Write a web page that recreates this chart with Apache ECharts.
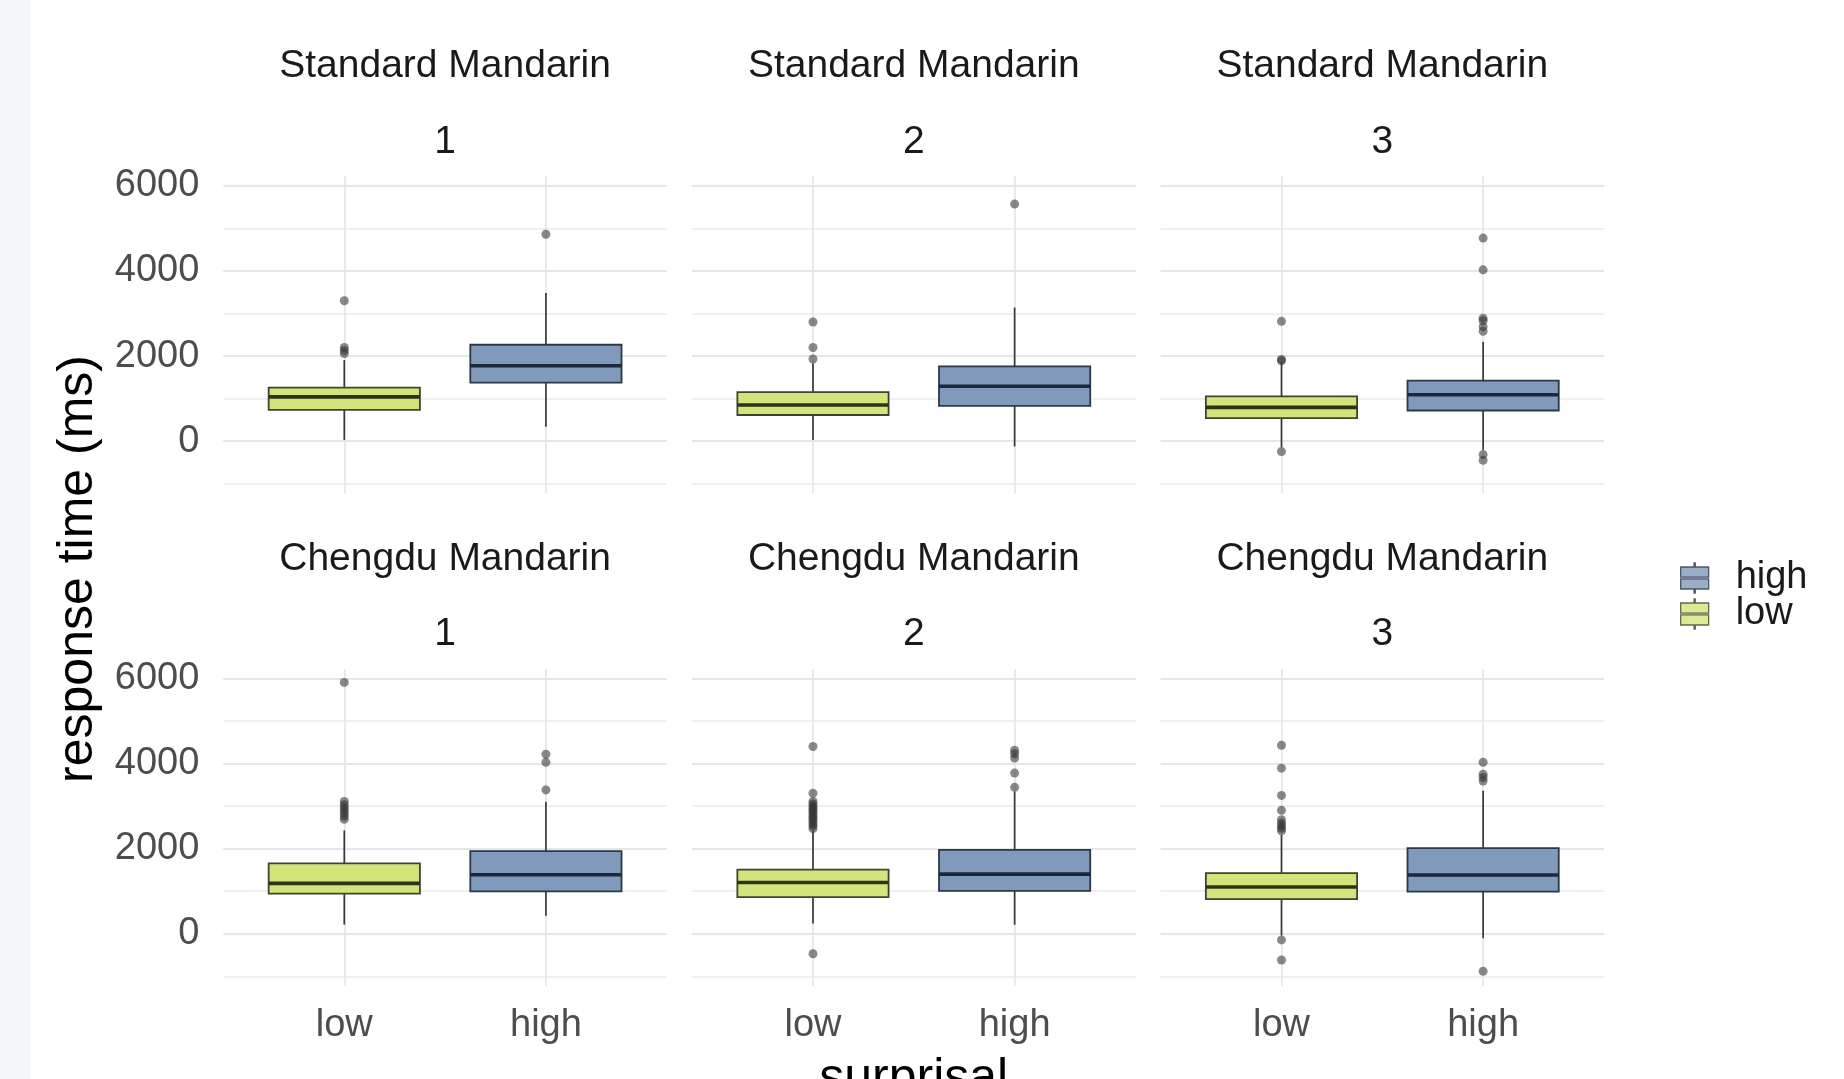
<!DOCTYPE html>
<html>
<head>
<meta charset="utf-8">
<script src="https://cdn.jsdelivr.net/npm/echarts@6/dist/echarts.min.js"></script>
<style>
html,body{margin:0;padding:0;background:#ffffff;}
#chart{width:1844px;height:1079px;}
</style>
</head>
<body>
<div id="chart"></div>
<script>
// ---------------- data ----------------
const PANEL_DIALECT = ['Standard Mandarin', 'Standard Mandarin', 'Standard Mandarin',
                       'Chengdu Mandarin', 'Chengdu Mandarin', 'Chengdu Mandarin'];
const PANEL_BLOCK = ['1', '2', '3', '1', '2', '3'];
const SURPRISAL = ['low', 'high'];
const LEGEND_ORDER = ['high', 'low'];

// [lower whisker, Q1, median, Q3, upper whisker] per panel
const LOW_STATS = [
  [30, 735, 1040, 1260, 1905],
  [30, 615, 850, 1150, 1830],
  [-140, 540, 795, 1050, 1860],
  [215, 945, 1185, 1655, 2430],
  [240, 860, 1205, 1505, 2420],
  [-40, 815, 1100, 1425, 2320]
];
const HIGH_STATS = [
  [340, 1375, 1770, 2265, 3480],
  [-125, 830, 1290, 1755, 3140],
  [-200, 720, 1090, 1420, 2330],
  [425, 995, 1385, 1940, 3100],
  [210, 1010, 1400, 1970, 3340],
  [-105, 990, 1380, 2010, 3360]
];
const LOW_OUTLIERS = [
  [3300, 2200, 2130, 2060],
  [2800, 2200, 1930],
  [2815, 1920, 1890, -245],
  [5905, 3110, 3030, 2960, 2900, 2830, 2760, 2690],
  [4400, 3300, 3110, 3050, 3000, 2950, 2900, 2850, 2790, 2740, 2690, 2640, 2580, 2530, 2470, -470],
  [4430, 3890, 3250, 2900, 2680, 2600, 2540, 2480, 2420, -145, -615]
];
const HIGH_OUTLIERS = [
  [4860],
  [5570],
  [4770, 4025, 2890, 2830, 2690, 2580, -315, -450],
  [4220, 4030, 3380],
  [4310, 4230, 4130, 3775, 3440],
  [4030, 3750, 3670, 3590, -880]
];
const MAJOR_TICKS = [0, 2000, 4000, 6000];
const MINOR_TICKS = [-1000, 1000, 3000, 5000];
const Y_TITLE = 'response time (ms)';
const X_TITLE = 'surprisal';

// ---------------- layout & style ----------------
const FONT = 'Liberation Sans, Arial, Helvetica, sans-serif';
const PANEL_LEFT = [223.3, 692.0, 1160.5];
const PANEL_W = 443.6;
const ROW_TOP = [176.4, 669.0];
const PANEL_H = 316.7;
const Y_LO = -1220, Y_HI = 6220;
const UNIT = PANEL_W / 2.2;
const BOX_WIDTH = 0.75;
const STRIP_Y1 = [66.5, 559.5];
const STRIP_Y2 = [142.5, 634.5];
const LEGEND_TOP = [559, 595];

const FILL = { low: '#d3e47b', high: '#7f9aba' };
const MEDIAN = { low: '#2a3516', high: '#1a283b' };
const BORDER = { low: '#3d4530', high: '#2c3848' };
const WHISKER = '#383838';

function py(row, v) { return ROW_TOP[row] + (Y_HI - v) / (Y_HI - Y_LO) * PANEL_H; }

function makeRender(g) {
  return function (params, api) {
    const x = api.value(0);
    const lo = api.coord([x, api.value(1)]);
    const q1 = api.coord([x, api.value(2)]);
    const md = api.coord([x, api.value(3)]);
    const q3 = api.coord([x, api.value(4)]);
    const hi = api.coord([x, api.value(5)]);
    const half = api.size([BOX_WIDTH, 0])[0] / 2;
    const cx = q1[0];
    return {
      type: 'group',
      children: [
        { type: 'line', shape: { x1: cx, y1: hi[1], x2: cx, y2: q3[1] }, style: { stroke: WHISKER, lineWidth: 1.7 } },
        { type: 'line', shape: { x1: cx, y1: q1[1], x2: cx, y2: lo[1] }, style: { stroke: WHISKER, lineWidth: 1.7 } },
        { type: 'rect', shape: { x: cx - half, y: q3[1], width: 2 * half, height: q1[1] - q3[1] },
          style: { fill: FILL[g], stroke: BORDER[g], lineWidth: 1.8 } },
        { type: 'line', shape: { x1: cx - half, y1: md[1], x2: cx + half, y2: md[1] },
          style: { stroke: MEDIAN[g], lineWidth: 3.6 } }
      ]
    };
  };
}

const grids = [], xAxes = [], yAxes = [], series = [], graphics = [];
const labelStyle = { fontFamily: FONT, fontSize: 38, color: '#4d4d4d' };

for (let p = 0; p < 6; p++) {
  const col = p % 3, row = Math.floor(p / 3);
  const base = grids.length;
  grids.push({ left: PANEL_LEFT[col] + 0.6 * UNIT, width: UNIT, top: ROW_TOP[row], height: PANEL_H, outerBoundsMode: 'none', containLabel: false });
  grids.push({ left: PANEL_LEFT[col], width: PANEL_W, top: py(row, MAJOR_TICKS[MAJOR_TICKS.length - 1]),
    height: py(row, MAJOR_TICKS[0]) - py(row, MAJOR_TICKS[MAJOR_TICKS.length - 1]), outerBoundsMode: 'none', containLabel: false });
  grids.push({ left: PANEL_LEFT[col], width: PANEL_W, top: py(row, MINOR_TICKS[MINOR_TICKS.length - 1]),
    height: py(row, MINOR_TICKS[0]) - py(row, MINOR_TICKS[MINOR_TICKS.length - 1]), outerBoundsMode: 'none', containLabel: false });

  xAxes.push({
    gridIndex: base, type: 'value', min: 1, max: 2, interval: 1,
    axisLine: { show: false }, axisTick: { show: false },
    splitLine: { show: true, lineStyle: { color: '#e4e4e4', width: 1.6 } },
    axisLabel: Object.assign({ show: row === 1, margin: 40, verticalAlign: 'middle',
      formatter: v => SURPRISAL[Math.round(v) - 1] }, labelStyle)
  });
  yAxes.push({ gridIndex: base, type: 'value', min: Y_LO, max: Y_HI, show: false });

  xAxes.push({ gridIndex: base + 1, type: 'value', min: 0, max: 1, show: false });
  yAxes.push({
    gridIndex: base + 1, type: 'value', min: MAJOR_TICKS[0], max: MAJOR_TICKS[MAJOR_TICKS.length - 1],
    interval: MAJOR_TICKS[1] - MAJOR_TICKS[0],
    axisLine: { show: false }, axisTick: { show: false },
    splitLine: { show: true, lineStyle: { color: '#e6e6e6', width: 2.2 } },
    axisLabel: Object.assign({ show: col === 0, margin: 24, padding: [5, 0, 0, 0], formatter: v => String(v) }, labelStyle)
  });

  xAxes.push({ gridIndex: base + 2, type: 'value', min: 0, max: 1, show: false });
  yAxes.push({
    gridIndex: base + 2, type: 'value', min: MINOR_TICKS[0], max: MINOR_TICKS[MINOR_TICKS.length - 1],
    interval: MINOR_TICKS[1] - MINOR_TICKS[0],
    axisLine: { show: false }, axisTick: { show: false }, axisLabel: { show: false },
    splitLine: { show: true, lineStyle: { color: '#ebebeb', width: 1.5 } }
  });

  SURPRISAL.forEach((g, gi) => {
    const stats = (gi === 0 ? LOW_STATS : HIGH_STATS)[p];
    const outs = (gi === 0 ? LOW_OUTLIERS : HIGH_OUTLIERS)[p];
    series.push({
      type: 'scatter', name: g, xAxisIndex: base, yAxisIndex: base, clip: false, silent: true, z: 2,
      symbol: 'circle', symbolSize: 9,
      itemStyle: { color: 'rgba(50,50,50,0.72)' },
      data: outs.map(v => [gi + 1, v])
    });
    series.push({
      type: 'custom', name: g, xAxisIndex: base, yAxisIndex: base, clip: false, silent: true, z: 3,
      itemStyle: { color: FILL[g] },
      renderItem: makeRender(g),
      data: [[gi + 1].concat(stats)]
    });
  });

  const cxPanel = PANEL_LEFT[col] + PANEL_W / 2;
  graphics.push({ type: 'text', x: cxPanel, y: STRIP_Y1[row], silent: true,
    style: { text: PANEL_DIALECT[p], fontFamily: FONT, fontSize: 39, fill: '#1a1a1a', textAlign: 'center', textVerticalAlign: 'middle' } });
  graphics.push({ type: 'text', x: cxPanel, y: STRIP_Y2[row], silent: true,
    style: { text: PANEL_BLOCK[p], fontFamily: FONT, fontSize: 39, fill: '#1a1a1a', textAlign: 'center', textVerticalAlign: 'middle' } });
}

graphics.unshift({ type: 'rect', left: 0, top: 0, z: -10, silent: true,
  shape: { x: 0, y: 0, width: 30, height: 1079 }, style: { fill: '#f4f8fb' } });
graphics.push({ type: 'text', x: 78, y: 569, rotation: Math.PI / 2, silent: true,
  style: { text: Y_TITLE, fontFamily: FONT, fontSize: 50, fill: '#000000', textAlign: 'center', textVerticalAlign: 'middle' } });
graphics.push({ type: 'text', x: (PANEL_LEFT[0] + PANEL_LEFT[2] + PANEL_W) / 2, y: 1079, silent: true,
  style: { text: X_TITLE, fontFamily: FONT, fontSize: 50, fill: '#000000', textAlign: 'center', textVerticalAlign: 'middle' } });

const KEY_ICON = 'path://M13.4,0h1.2v4h-1.2z M0,4h28v10.2h-28z M0,15.8h28v10.2h-28z M13.4,26h1.2v4h-1.2z';

const legends = LEGEND_ORDER.map((g, i) => ({
  orient: 'vertical', left: 1680, top: LEGEND_TOP[i], padding: 0,
  itemWidth: 28, itemHeight: 30, itemGap: 0, selectedMode: false,
  textStyle: { fontFamily: FONT, fontSize: 38, color: '#1a1a1a', padding: [0, 0, 0, 22] },
  data: [{ name: g, icon: KEY_ICON, itemStyle: { color: FILL[g], borderColor: BORDER[g], borderWidth: 1.3 } }]
}));

const option = {
  animation: false,
  backgroundColor: '#ffffff',
  grid: grids,
  xAxis: xAxes,
  yAxis: yAxes,
  series: series,
  graphic: graphics,
  legend: legends
};

const chart = echarts.init(document.getElementById('chart'), null, { renderer: 'canvas', width: 1844, height: 1079 });
chart.setOption(option);
</script>
</body>
</html>
